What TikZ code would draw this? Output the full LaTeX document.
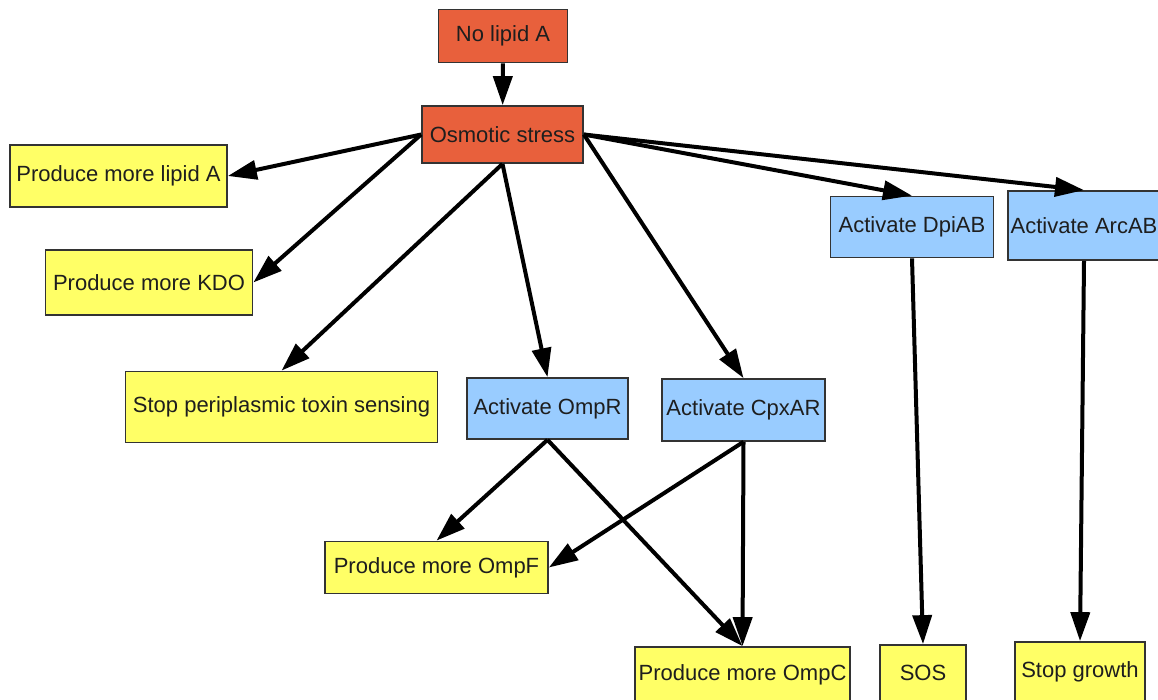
\documentclass[tikz,border=0pt]{standalone}
\usepackage{fontspec}
\setsansfont{Liberation Sans}
\usepackage{tikz}
\usetikzlibrary{arrows.meta}
\usetikzlibrary{calc}

\definecolor{stressred}{HTML}{E8603C}
\definecolor{resultyellow}{HTML}{FFFF66}
\definecolor{activeblue}{HTML}{99CCFF}
\definecolor{boxline}{HTML}{333333}
\definecolor{boxtext}{HTML}{1E1E1E}

\begin{document}
\begin{tikzpicture}[x=1pt,y=-1pt,
  box/.style={rectangle,draw=boxline,line width=1.7pt,inner sep=0,text=boxtext,
    font=\sffamily\fontsize{22}{24}\selectfont},
  stress/.style={box,fill=stressred},
  result/.style={box,fill=resultyellow},
  activator/.style={box,fill=activeblue},
  edge/.style={line width=4pt,-{Triangle[length=29pt,width=19pt]}}]

  \useasboundingbox (0,0) rectangle (1158,700);

  \node[stress,minimum width=129pt,minimum height=53pt] (nolipid) at (503,36) {No lipid A};
  \node[stress,minimum width=161pt,minimum height=57pt] (osm) at (502.5,134.5) {Osmotic stress};

  \node[result,minimum width=217pt,minimum height=62pt] (lipa) at (118.5,176) {Produce more lipid A};
  \node[result,minimum width=207pt,minimum height=65pt] (kdo) at (149,282.5) {Produce more KDO};
  \node[result,minimum width=312pt,minimum height=71pt] (stop) at (281.5,407) {Stop periplasmic toxin sensing};

  \node[activator,minimum width=161pt,minimum height=61pt] (ompr) at (547.5,408.5) {Activate OmpR};
  \node[activator,minimum width=163pt,minimum height=62pt] (cpx) at (743.5,410) {Activate CpxAR};
  \node[activator,minimum width=163pt,minimum height=61pt] (dpi) at (912,227) {Activate DpiAB};
  \node[activator,minimum width=152pt,minimum height=69pt] (arc) at (1084,225.5) {Activate ArcAB};

  \node[result,minimum width=223pt,minimum height=52pt] (ompf) at (436.5,567.5) {Produce more OmpF};
  \node[result,minimum width=215pt,minimum height=56pt] (ompc) at (742.5,675) {Produce more OmpC};
  \node[result,minimum width=86pt,minimum height=56pt] (sos) at (923,673) {SOS};
  \node[result,minimum width=130pt,minimum height=60pt] (grow) at (1080,672) {Stop growth};

  \draw[edge] (nolipid) -- (osm);
  \draw[edge] (osm.west) -- (lipa.east);
  \draw[edge] (osm.west) -- (kdo.east);
  \draw[edge] (osm.south) -- (stop.north);
  \draw[edge] (osm.south) -- (ompr.north);
  \draw[edge] (osm.east) -- (cpx.north);
  \draw[edge] (osm.east) -- (dpi.north);
  \draw[edge] (osm.east) -- (arc.north);

  \draw[edge] (ompr.south) -- (ompf.north);
  \draw[edge] (ompr.south) -- (ompc.north);
  \draw[edge] (cpx.south) -- (ompf.east);
  \draw[edge] (cpx.south) -- (ompc.north);
  \draw[edge] (dpi.south) -- (sos.north);
  \draw[edge] (arc.south) -- (grow.north);
\end{tikzpicture}
\end{document}
